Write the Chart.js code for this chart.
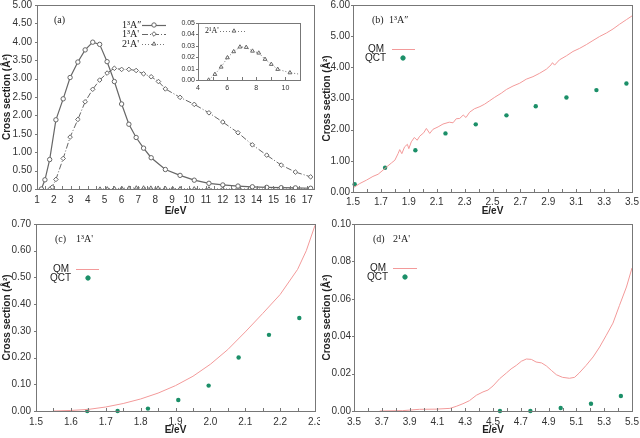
<!DOCTYPE html>
<html>
<head>
<meta charset="utf-8">
<script src="https://cdn.jsdelivr.net/npm/chart.js@4.4.0/dist/chart.umd.min.js"></script>
<style>
  body { margin: 0; background: #fff; }
  #wrap { position: relative; width: 640px; height: 438px; overflow: hidden; }
  canvas { position: absolute; }
</style>
</head>
<body>
<div id="wrap">
  <canvas id="chartA" width="320" height="219" style="left:0;top:0"></canvas>
  <canvas id="chartInset" width="130" height="80" style="left:175px;top:18px"></canvas>
  <canvas id="chartB" width="320" height="219" style="left:320px;top:0"></canvas>
  <canvas id="chartC" width="320" height="219" style="left:0;top:219px"></canvas>
  <canvas id="chartD" width="320" height="219" style="left:320px;top:219px"></canvas>
</div>
<script>
// (a) 1³A″, 1³A', 2¹A' cross sections
const eA2pp = [1.26, 1.47, 1.75, 2.12, 2.55, 2.96, 3.42, 3.85, 4.30, 4.71, 5.15, 5.58, 6.01, 6.44, 6.87, 7.31, 7.76, 8.60, 9.47, 10.31, 11.18, 12.0, 12.9, 13.75, 14.6, 15.46, 16.3, 17.2];
const csA2pp = [0, 0.25, 0.80, 1.88, 2.45, 3.03, 3.45, 3.78, 3.99, 3.93, 3.46, 2.92, 2.31, 1.76, 1.40, 1.11, 0.85, 0.53, 0.37, 0.24, 0.155, 0.11, 0.08, 0.06, 0.045, 0.035, 0.03, 0.02];
const eA1p = [1.77, 1.90, 2.12, 2.55, 2.96, 3.42, 3.85, 4.30, 4.71, 5.15, 5.58, 6.01, 6.44, 6.87, 7.31, 7.76, 8.19, 8.60, 9.47, 10.31, 11.18, 12.0, 12.9, 13.75, 14.6, 15.46, 16.3, 17.2];
const csA1p = [0, 0.05, 0.26, 0.83, 1.41, 1.89, 2.37, 2.71, 2.96, 3.15, 3.28, 3.25, 3.25, 3.22, 3.13, 3.05, 2.92, 2.72, 2.49, 2.30, 2.07, 1.82, 1.53, 1.20, 0.92, 0.65, 0.46, 0.33];
const eA21 = [4.73, 5.16, 5.59, 6.02, 6.45, 6.88, 7.31, 7.74, 8.17, 8.60, 9.03, 9.47, 10.31, 11.18, 12.0, 12.9, 13.75, 14.6, 15.46, 16.3, 17.2];
const csA21 = [0, 0.005, 0.0114, 0.0196, 0.0249, 0.029, 0.0287, 0.0254, 0.0237, 0.0182, 0.0138, 0.0094, 0.0064, 0.0047, 0.0035, 0.0025, 0.0018, 0.0013, 0.001, 0.0008, 0.0006];
const ticksAx = [1, 2, 3, 4, 5, 6, 7, 8, 9, 10, 11, 12, 13, 14, 15, 16, 17];
const ticksAy = [0, 0.5, 1, 1.5, 2, 2.5, 3, 3.5, 4, 4.5, 5];
const ticksInsetX = [4, 6, 8, 10];
const ticksInsetY = [0, 0.01, 0.02, 0.03, 0.04, 0.05];

// (b) 1³A″ QM vs QCT
const eB = [1.50, 1.548, 1.596, 1.643, 1.68, 1.715, 1.74, 1.775, 1.80, 1.823, 1.835, 1.85, 1.87, 1.89, 1.90, 1.918, 1.94, 1.96, 1.978, 2.007, 2.026, 2.05, 2.073, 2.11, 2.145, 2.19, 2.217, 2.24, 2.265, 2.29, 2.31, 2.336, 2.37, 2.41, 2.444, 2.48, 2.516, 2.563, 2.60, 2.647, 2.695, 2.742, 2.79, 2.838, 2.886, 2.92, 2.93, 2.945, 2.98, 3.03, 3.077, 3.125, 3.173, 3.22, 3.268, 3.316, 3.364, 3.41, 3.46, 3.50];
const qmB = [0.13, 0.27, 0.38, 0.50, 0.57, 0.70, 0.80, 0.93, 1.02, 1.23, 1.36, 1.23, 1.45, 1.53, 1.39, 1.61, 1.75, 1.66, 1.79, 1.90, 2.04, 1.88, 2.01, 2.09, 2.18, 2.24, 2.22, 2.35, 2.36, 2.47, 2.39, 2.56, 2.67, 2.74, 2.82, 2.93, 3.04, 3.17, 3.29, 3.40, 3.49, 3.62, 3.70, 3.81, 3.94, 4.08, 4.15, 4.07, 4.24, 4.37, 4.51, 4.61, 4.73, 4.86, 4.99, 5.10, 5.23, 5.38, 5.53, 5.65];
const eBqct = [1.512, 1.73, 1.947, 2.163, 2.38, 2.60, 2.81, 3.03, 3.245, 3.46];
const qctB = [0.25, 0.78, 1.34, 1.88, 2.17, 2.46, 2.75, 3.03, 3.27, 3.48];
const ticksBx = [1.5, 1.7, 1.9, 2.1, 2.3, 2.5, 2.7, 2.9, 3.1, 3.3, 3.5];
const ticksBy = [0, 1, 2, 3, 4, 5, 6];

// (c) 1³A' QM vs QCT
const eC = [1.55, 1.60, 1.65, 1.70, 1.75, 1.80, 1.85, 1.90, 1.95, 2.00, 2.05, 2.10, 2.15, 2.20, 2.25, 2.275, 2.30];
const qmC = [0, 0.002, 0.006, 0.015, 0.028, 0.045, 0.067, 0.095, 0.13, 0.175, 0.23, 0.296, 0.365, 0.436, 0.53, 0.60, 0.695];
const eCqct = [1.647, 1.734, 1.821, 1.908, 1.995, 2.081, 2.168, 2.255];
const qctC = [0, 0, 0.009, 0.041, 0.095, 0.20, 0.285, 0.348];
const ticksCx = [1.5, 1.6, 1.7, 1.8, 1.9, 2.0, 2.1, 2.2, 2.3];
const ticksCy = [0, 0.1, 0.2, 0.3, 0.4, 0.5, 0.6, 0.7];

// (d) 2¹A' QM vs QCT
const eD = [3.685, 3.85, 3.97, 4.09, 4.19, 4.236, 4.284, 4.33, 4.38, 4.428, 4.464, 4.50, 4.548, 4.596, 4.63, 4.668, 4.704, 4.74, 4.776, 4.81, 4.85, 4.884, 4.92, 4.956, 5.00, 5.05, 5.087, 5.12, 5.17, 5.22, 5.267, 5.315, 5.363, 5.41, 5.46, 5.50];
const qmD = [0, 0.0002, 0.0009, 0.001, 0.0014, 0.0025, 0.0039, 0.0055, 0.0084, 0.0102, 0.0112, 0.0134, 0.0173, 0.0203, 0.0225, 0.0244, 0.0266, 0.0278, 0.0276, 0.0262, 0.0257, 0.0241, 0.0217, 0.0194, 0.018, 0.0175, 0.018, 0.0203, 0.0244, 0.0289, 0.0342, 0.0405, 0.047, 0.0565, 0.0663, 0.0765];
const eDqct = [4.55, 4.769, 4.987, 5.205, 5.42];
const qctD = [0, 0, 0.0016, 0.0039, 0.008];
const ticksDx = [3.5, 3.7, 3.9, 4.1, 4.3, 4.5, 4.7, 4.9, 5.1, 5.3, 5.5];
const ticksDy = [0, 0.02, 0.04, 0.06, 0.08, 0.10];

const QM_RED = "#f39a9a";
const QCT_GREEN = "#1b8f68";
const SANS = "'Liberation Sans', Arial, sans-serif";
const SERIF = "'Liberation Serif', 'Times New Roman', serif";

const pts = (xs, ys) => xs.map((x, i) => ({ x, y: ys[i] }));

// frame, small tick marks, free text and hand-made legend keys
const notes = {
  id: "notes",
  afterDraw(chart, args, opts) {
    const { ctx, chartArea: a } = chart;
    ctx.save();
    ctx.strokeStyle = opts.frame || "#777";
    ctx.lineWidth = 1;
    ctx.strokeRect(Math.round(a.left) + 0.5, Math.round(a.top) + 0.5, Math.round(a.right - a.left), Math.round(a.bottom - a.top));

    // inner ticks on the x axis (major + half steps), short outer ticks on y
    const xs = chart.scales.x, ys = chart.scales.y;
    const xv = xs.ticks.map((t) => t.value);
    const marks = [];
    xv.forEach((v, i) => {
      marks.push(v);
      if (i < xv.length - 1) marks.push((v + xv[i + 1]) / 2);
    });
    ctx.beginPath();
    marks.forEach((v) => {
      const px = Math.round(xs.getPixelForValue(v)) + 0.5;
      ctx.moveTo(px, a.bottom);
      ctx.lineTo(px, a.bottom - 3);
    });
    ys.ticks.forEach((t) => {
      const py = Math.round(ys.getPixelForValue(t.value)) + 0.5;
      ctx.moveTo(a.left, py);
      ctx.lineTo(a.left - 2, py);
    });
    ctx.stroke();

    ctx.fillStyle = "#222";
    ctx.textBaseline = "middle";
    (opts.texts || []).forEach((t) => {
      ctx.font = t.font || "10px " + SERIF;
      ctx.textAlign = t.align || "left";
      ctx.fillText(t.text, t.x, t.y);
    });
    (opts.keys || []).forEach((k) => {
      const ds = chart.data.datasets[k.ds];
      if (k.x2) {
        ctx.strokeStyle = ds.borderColor;
        ctx.lineWidth = ds.borderWidth || 1;
        ctx.setLineDash(ds.borderDash || []);
        ctx.beginPath();
        ctx.moveTo(k.x1, k.y + 0.5);
        ctx.lineTo(k.x2, k.y + 0.5);
        ctx.stroke();
      }
      if (k.mx) {
        ctx.setLineDash([]);
        ctx.fillStyle = ds.pointBackgroundColor;
        ctx.strokeStyle = ds.pointBorderColor;
        ctx.lineWidth = 1;
        Chart.helpers.drawPoint(ctx, { pointStyle: ds.pointStyle || "circle", radius: ds.pointRadius, rotation: 0, borderWidth: 1 }, k.mx, k.y);
      }
    });
    ctx.restore();
  },
};

function makePanel(id, p) {
  const canvas = document.getElementById(id);
  const W = canvas.width, H = canvas.height;
  const tickFont = { family: SANS, size: p.tickSize || 10 };
  const fixed = (arr) => (scale) => { scale.ticks = arr.map((v) => ({ value: v })); };
  return new Chart(canvas, {
    type: "scatter",
    data: { datasets: p.datasets },
    options: {
      responsive: false,
      animation: false,
      layout: { padding: { top: p.area.top, right: W - p.area.right, left: 0, bottom: 0 } },
      plugins: { legend: { display: false }, tooltip: { enabled: false }, notes: p.notes },
      scales: {
        x: {
          type: "linear",
          min: p.x.min,
          max: p.x.max,
          afterBuildTicks: fixed(p.x.ticks),
          afterFit(scale) { scale.height = H - p.area.bottom; scale.paddingLeft = 0; scale.paddingRight = 0; },
          grid: { display: false, drawTicks: false },
          border: { display: false },
          ticks: { font: tickFont, color: "#333", padding: p.x.pad, maxRotation: 0, autoSkip: false, callback: p.x.fmt },
          title: p.x.title
            ? { display: true, text: p.x.title, font: { family: SANS, size: 10, weight: "bold" }, color: "#222", padding: { top: 0, bottom: 2 } }
            : { display: false },
        },
        y: {
          type: "linear",
          min: p.y.min,
          max: p.y.max,
          afterBuildTicks: fixed(p.y.ticks),
          afterFit(scale) { scale.width = p.area.left; scale.paddingTop = 0; scale.paddingBottom = 0; },
          grid: { display: false, drawTicks: false },
          border: { display: false },
          ticks: { font: tickFont, color: "#333", padding: p.y.pad, autoSkip: false, callback: p.y.fmt },
          title: p.y.title
            ? { display: true, text: p.y.title, font: { family: SANS, size: 10, weight: "bold" }, color: "#222", padding: { top: 1, bottom: 0 } }
            : { display: false },
        },
      },
    },
    plugins: [notes],
  });
}

const f2 = (v) => Number(v).toFixed(2);
const f1 = (v) => Number(v).toFixed(1);
const f0 = (v) => String(v);
const YT = "Cross section (Å²)";

const lineA2pp = { data: pts(eA2pp, csA2pp), showLine: true, borderColor: "#666", borderWidth: 1.2, pointStyle: "circle", pointRadius: 2.2, pointBorderColor: "#666", pointBackgroundColor: "#fff", pointBorderWidth: 1 };
const lineA1p = { data: pts(eA1p, csA1p), showLine: true, borderColor: "#666", borderWidth: 1, borderDash: [6, 2, 1, 2], pointStyle: "rectRot", pointRadius: 2.3, pointBorderColor: "#666", pointBackgroundColor: "#fff", pointBorderWidth: 1 };
const lineA21 = { data: pts(eA21, csA21), showLine: true, borderColor: "#777", borderWidth: 1, borderDash: [1, 2], pointStyle: "triangle", pointRadius: 2.2, pointBorderColor: "#666", pointBackgroundColor: "#fff", pointBorderWidth: 1 };

makePanel("chartA", {
  area: { left: 37, right: 314, top: 5, bottom: 189 },
  x: { min: 1, max: 17.4, ticks: ticksAx, fmt: f0, pad: 5, title: "E/eV" },
  y: { min: 0, max: 5, ticks: ticksAy, fmt: f2, pad: 5, title: YT },
  datasets: [lineA2pp, lineA1p, lineA21],
  notes: {
    texts: [
      { text: "(a)", x: 54, y: 20 },
      { text: "1³A″", x: 122, y: 25 },
      { text: "1³A'", x: 122, y: 34 },
      { text: "2¹A'", x: 122, y: 44 },
    ],
    keys: [
      { ds: 0, x1: 142, x2: 166, y: 25, mx: 154 },
      { ds: 1, x1: 142, x2: 166, y: 34, mx: 154 },
      { ds: 2, x1: 142, x2: 166, y: 44, mx: 154 },
    ],
  },
});

makePanel("chartInset", {
  area: { left: 23, right: 125, top: 5, bottom: 62 },
  tickSize: 7,
  x: { min: 4, max: 11, ticks: ticksInsetX, fmt: f0, pad: 4 },
  y: { min: 0, max: 0.05, ticks: ticksInsetY, fmt: f2, pad: 3 },
  datasets: [{ ...lineA21, pointRadius: 2.2 }],
  notes: {
    texts: [{ text: "2¹A'", x: 30, y: 13, font: "8px " + SERIF }],
    keys: [{ ds: 0, x1: 45, x2: 70, y: 13, mx: 59 }],
  },
});

const qmLine = (xs, ys) => ({ data: pts(xs, ys), showLine: true, borderColor: QM_RED, borderWidth: 1, pointRadius: 0 });
const qctDots = (xs, ys) => ({ data: pts(xs, ys), showLine: false, pointStyle: "circle", pointRadius: 2.2, pointBorderColor: QCT_GREEN, pointBackgroundColor: QCT_GREEN, pointBorderWidth: 0, borderColor: QCT_GREEN, clip: 4 });

// legend text is right-aligned at t.right, line sample and dot to its right
function qmQctNotes(tag, state, t) {
  return {
    texts: [
      { text: tag, x: t.tagX, y: 20 },
      { text: state, x: t.stateX, y: 20 },
      { text: "QM", x: t.right - 2, y: t.qmY, align: "right", font: "10px " + SANS },
      { text: "QCT", x: t.right, y: t.qmY + 9, align: "right", font: "10px " + SANS },
    ],
    keys: [
      { ds: 0, x1: t.l1, x2: t.l2, y: t.qmY },
      { ds: 1, y: t.qmY + 9, mx: t.dot },
    ],
  };
}

makePanel("chartB", {
  area: { left: 33, right: 312, top: 5, bottom: 192 },
  x: { min: 1.5, max: 3.5, ticks: ticksBx, fmt: f1, pad: 4, title: "E/eV" },
  y: { min: 0, max: 6, ticks: ticksBy, fmt: f2, pad: 3, title: YT },
  datasets: [qmLine(eB, qmB), qctDots(eBqct, qctB)],
  notes: qmQctNotes("(b)", "1³A″", { tagX: 52, stateX: 69, right: 66, qmY: 49, l1: 72, l2: 95, dot: 83 }),
});

makePanel("chartC", {
  area: { left: 36, right: 315, top: 5, bottom: 192 },
  x: { min: 1.5, max: 2.3, ticks: ticksCx, fmt: f1, pad: 5, title: "E/eV" },
  y: { min: 0, max: 0.7, ticks: ticksCy, fmt: f2, pad: 5, title: YT },
  datasets: [qmLine(eC, qmC), qctDots(eCqct, qctC)],
  notes: qmQctNotes("(c)", "1³A'", { tagX: 55, stateX: 76, right: 71, qmY: 50, l1: 76, l2: 99, dot: 88 }),
});

makePanel("chartD", {
  area: { left: 34, right: 312, top: 5, bottom: 192 },
  x: { min: 3.5, max: 5.5, ticks: ticksDx, fmt: f1, pad: 5, title: "E/eV" },
  y: { min: 0, max: 0.1, ticks: ticksDy, fmt: f2, pad: 3, title: YT },
  datasets: [qmLine(eD, qmD), qctDots(eDqct, qctD)],
  notes: qmQctNotes("(d)", "2¹A'", { tagX: 53, stateX: 73, right: 68, qmY: 49, l1: 73, l2: 97, dot: 85 }),
});
</script>
</body>
</html>
